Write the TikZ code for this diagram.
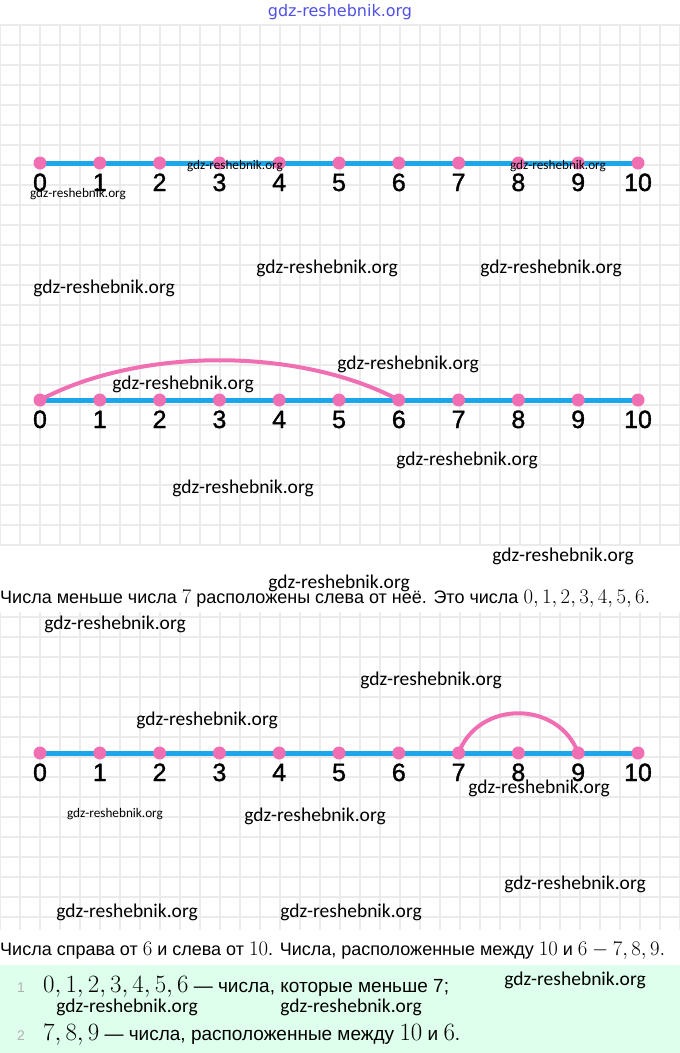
\documentclass[tikz,border=0pt]{standalone}
\usepackage{fontspec}
\setmainfont{Liberation Sans}
\newfontfamily\wmfont{Carlito}
\newfontfamily\topfont{DejaVu Sans}
\newfontfamily\digitfont{Liberation Sans}[FakeBold=1.3]

\definecolor{linecyan}{RGB}{27,167,234}
\definecolor{dotpink}{RGB}{240,110,178}
\definecolor{gridgray}{RGB}{235,235,235}
\definecolor{notegreen}{RGB}{221,255,236}
\definecolor{wmblue}{RGB}{80,80,230}

\newcommand{\mnum}[1]{{\fontsize{22}{22}\selectfont$#1$}}
\newcommand{\anum}[1]{{\fontsize{23}{23}\selectfont$#1$}}

\tikzset{
  gridline/.style={draw=gridgray, line width=1.3pt},
  numberline/.style={draw=linecyan, line width=5pt},
  jumparc/.style={draw=dotpink, line width=4pt, line cap=round},
  dotmark/.style={circle, fill=dotpink, inner sep=0pt, minimum size=13pt},
  numlabel/.style={anchor=base, inner sep=0pt, font=\digitfont\fontsize{25}{25}\selectfont},
  textline/.style={anchor=base west, inner sep=0pt, font=\fontsize{18}{20}\selectfont},
  answer/.style={anchor=base west, inner sep=0pt, font=\fontsize{19}{22}\selectfont},
  itemno/.style={anchor=base, inner sep=0pt, text=gray!60, font=\fontsize{14}{16}\selectfont},
  wmark/.style={font=\wmfont\fontsize{19.5}{19.5}\selectfont, inner sep=0pt},
  wmsmall/.style={font=\wmfont\fontsize{13.2}{13.2}\selectfont, inner sep=0pt},
}

\begin{document}
\begin{tikzpicture}[x=1pt, y=-1pt]
\useasboundingbox (0,0) rectangle (680,1053);

% squared paper
\foreach \gy in {25,45,...,545}
  \draw[gridline] (0,\gy) -- (680,\gy);
\foreach \gx in {0,20,...,680}
  \draw[gridline] (\gx,25) -- (\gx,545);
\foreach \gy in {617,637,...,930}
  \draw[gridline] (0,\gy) -- (680,\gy);
\foreach \gx in {0,20,...,680}
  \draw[gridline] (\gx,612) -- (\gx,930);

% note box
\fill[notegreen] (0,965) rectangle (680,1053);

% number lines
\foreach \r/\ly in {a/163, b/400, c/753} {
  \foreach \i in {0,...,10}
    \coordinate (\r\i) at ({40+59.8*\i},\ly);
  \draw[numberline] (\r0) -- (\r10);
}

% jumps
\draw[jumparc] (b0) .. controls +(100,-53) and +(-100,-53) .. (b6);
\draw[jumparc] (c7) .. controls +(20,-53) and +(-20,-53) .. (c9);

\foreach \r/\ly in {a/163, b/400, c/753} {
  \foreach \i in {0,...,10} {
    \node[dotmark] (d\r\i) at (\r\i) {};
    \node[numlabel] (n\r\i) at ({40+59.8*\i},\ly+28) {\i};
  }
}

% text
\node[textline] (lessline) at (0,603)
  {Числа меньше числа \mnum{7} расположены слева от неё. Это числа \mnum{0, 1, 2, 3, 4, 5, 6.}};
\node[textline] (betweenline) at (0,955)
  {Числа справа от \mnum{6} и слева от \mnum{10}. Числа, расположенные между \mnum{10} и \mnum{6 - 7, 8, 9.}};

\node[itemno] (no1) at (21,992) {1};
\node[answer] (ans1) at (43,992) {\anum{0, 1, 2, 3, 4, 5, 6} — числа, которые меньше 7;};
\node[itemno] (no2) at (21,1040) {2};
\node[answer] (ans2) at (43,1040) {\anum{7, 8, 9} — числа, расположенные между \anum{10} и \anum{6}.};

% site marks
\node[font=\topfont\fontsize{16}{16}\selectfont, text=wmblue, inner sep=0pt] (wm0) at (340,12) {gdz-reshebnik.org};
\node[wmsmall] (wm1) at (235,166) {gdz-reshebnik.org};
\node[wmsmall] (wm2) at (78,194) {gdz-reshebnik.org};
\node[wmsmall] (wm3) at (558,166) {gdz-reshebnik.org};
\node[wmark] (wm4) at (327,268) {gdz-reshebnik.org};
\node[wmark] (wm5) at (551,268) {gdz-reshebnik.org};
\node[wmark] (wm6) at (104,288) {gdz-reshebnik.org};
\node[wmark] (wm7) at (408,364) {gdz-reshebnik.org};
\node[wmark] (wm8) at (183,384) {gdz-reshebnik.org};
\node[wmark] (wm9) at (467,460) {gdz-reshebnik.org};
\node[wmark] (wm10) at (243,488) {gdz-reshebnik.org};
\node[wmark] (wm11) at (563,556) {gdz-reshebnik.org};
\node[wmark] (wm12) at (339,583) {gdz-reshebnik.org};
\node[wmark] (wm13) at (115,624) {gdz-reshebnik.org};
\node[wmark] (wm14) at (431,680) {gdz-reshebnik.org};
\node[wmark] (wm15) at (207,720) {gdz-reshebnik.org};
\node[wmark] (wm16) at (539,788) {gdz-reshebnik.org};
\node[wmsmall] (wm17) at (115,814) {gdz-reshebnik.org};
\node[wmark] (wm18) at (315,816) {gdz-reshebnik.org};
\node[wmark] (wm19) at (575,884) {gdz-reshebnik.org};
\node[wmark] (wm20) at (127,912) {gdz-reshebnik.org};
\node[wmark] (wm21) at (351,912) {gdz-reshebnik.org};
\node[wmark] (wm22) at (575,980) {gdz-reshebnik.org};
\node[wmark] (wm23) at (127,1007) {gdz-reshebnik.org};
\node[wmark] (wm24) at (351,1007) {gdz-reshebnik.org};
\end{tikzpicture}
\end{document}
